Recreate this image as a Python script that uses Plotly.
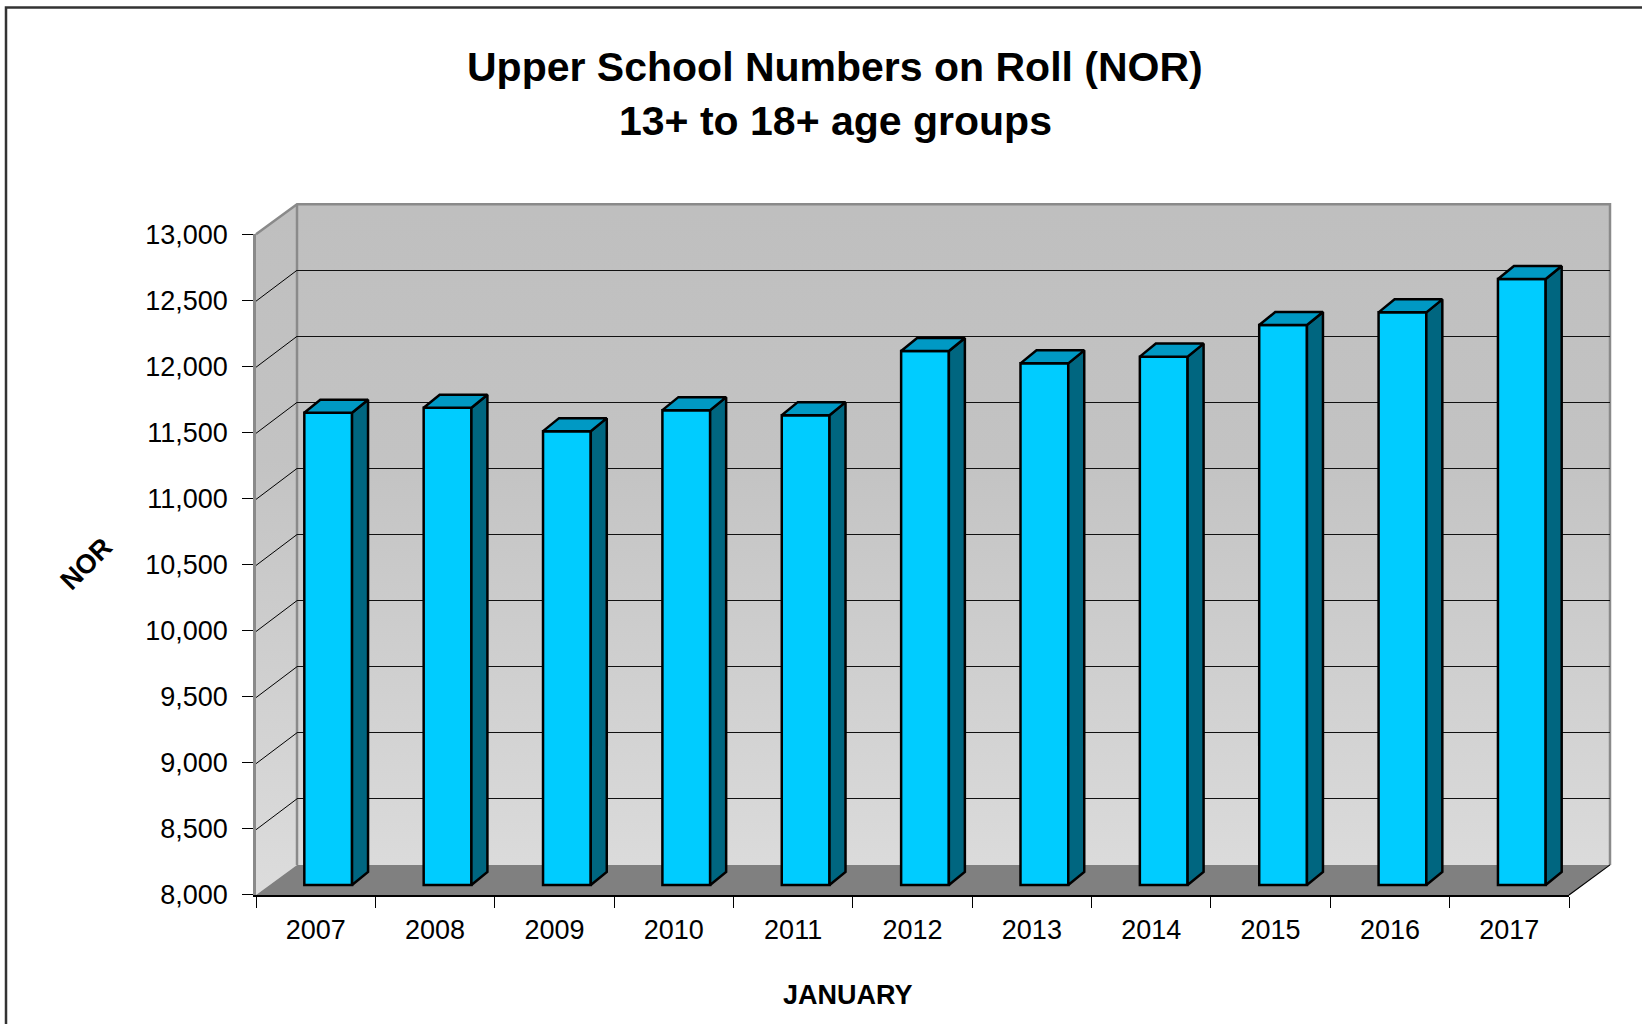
import plotly.graph_objects as go

# ---------------- data ----------------
years = [2007, 2008, 2009, 2010, 2011, 2012, 2013, 2014, 2015, 2016, 2017]
year_labels = [str(y) for y in years]
nor = [11573, 11611, 11434, 11593, 11555, 12040, 11947, 11998, 12237, 12333, 12586]
y_ticks = [8000, 8500, 9000, 9500, 10000, 10500, 11000, 11500, 12000, 12500, 13000]
y_tick_labels = ["8,000", "8,500", "9,000", "9,500", "10,000", "10,500",
                 "11,000", "11,500", "12,000", "12,500", "13,000"]
title_line1 = "Upper School Numbers on Roll (NOR)"
title_line2 = "13+ to 18+ age groups"
x_title = "JANUARY"
y_title = "NOR"

# ---------------- geometry ----------------
# target positions are given in screen pixels; vertical screen pixels are
# converted to figure pixels with the viewer's vertical scale.
S_Y = 0.9707
OFF_Y = 13.9
SHIFT = 2.5
W = 1642
H = 1060


def fy(y):
    return y / S_Y


FX0, FX1 = 256, 1569                  # front plane x extent
FYB, FYT = fy(896), fy(236)           # front plane y of axis min / max
DDX, DDY = 41, fy(30)                 # full depth offset of the 3D box
BSX, BSY = 12.5, fy(10)               # offset of bar front faces
BDX, BDY = 16, fy(13)                 # bar depth
Y_MIN, Y_MAX = y_ticks[0], y_ticks[-1]
K = (FYB - FYT) / (Y_MAX - Y_MIN)     # px per unit
X_MIN, X_MAX = years[0] - 0.5, years[-1] + 0.5
KX = (FX1 - FX0) / (X_MAX - X_MIN)    # px per year
Y4_MIN = 7700

FONT = "Liberation Sans, Arial, sans-serif"


def xd(a, b):
    return [a / W, b / W]


def yd(bottom, top):
    return [1 - bottom / H, 1 - top / H]


fig = go.Figure()

# ---------- subplot 1: pixel space furniture (walls, floor) ----------
BX0, BX1 = FX0 + DDX, FX1 + DDX
BYB, BYT = FYB - DDY, FYT - DDY
grad = dict(type="vertical", colorscale=[[0, "#bfbfbf"], [0.35, "#c3c3c3"], [1, "#dedede"]],
            start=BYT, stop=FYB)
fig.add_trace(go.Scatter(x=[BX0, BX1, BX1, BX0, BX0], y=[BYT, BYT, BYB, BYB, BYT],
                         fill="toself", fillgradient=grad, mode="none",
                         xaxis="x", yaxis="y", hoverinfo="skip", showlegend=False))
fig.add_trace(go.Scatter(x=[FX0, BX0, BX0, FX0, FX0], y=[FYT, BYT, BYB, FYB, FYT],
                         fill="toself", fillgradient=grad, mode="none",
                         xaxis="x", yaxis="y", hoverinfo="skip", showlegend=False))
fig.add_trace(go.Scatter(x=[FX0, BX0, BX1, FX1, FX0], y=[FYB, BYB, BYB, FYB, FYB],
                         fill="toself", fillcolor="#808080", mode="none",
                         xaxis="x", yaxis="y", hoverinfo="skip", showlegend=False))
# wall borders (gray)
fig.add_trace(go.Scatter(x=[FX0, BX0, BX1, BX1, None, BX0, BX0],
                         y=[FYT, BYT, BYT, BYB, None, BYT, BYB],
                         mode="lines", line=dict(color="#8a8a8a", width=2.5),
                         xaxis="x", yaxis="y", hoverinfo="skip", showlegend=False))
# floor right edge
fig.add_trace(go.Scatter(x=[FX1, BX1], y=[FYB, BYB], mode="lines",
                         line=dict(color="#000000", width=1.2),
                         xaxis="x", yaxis="y", hoverinfo="skip", showlegend=False))

# ---------- subplot 3: front plane axes (labels) ----------
fig.add_trace(go.Scatter(x=year_labels, y=nor, mode="markers", marker=dict(opacity=0),
                         xaxis="x3", yaxis="y3", hoverinfo="skip", showlegend=False))

# ---------- subplot 4: bars ----------
fig.add_trace(go.Bar(x=years, y=[v - Y_MIN for v in nor], base=Y_MIN, width=0.4,
                     marker=dict(color="#00ccff", line=dict(color="#000000", width=2.5)),
                     xaxis="x4", yaxis="y4", hoverinfo="skip", showlegend=False))
DXU = BDX / KX
DYU = BDY / K
sx, sy, tx, ty = [], [], [], []
for yr, v in zip(years, nor):
    r, l = yr + 0.2, yr - 0.2
    sx += [r, r, r + DXU, r + DXU, r, None]
    sy += [Y_MIN, v, v + DYU, Y_MIN + DYU, Y_MIN, None]
    tx += [l, r, r + DXU, l + DXU, l, None]
    ty += [v, v, v + DYU, v + DYU, v, None]
fig.add_trace(go.Scatter(x=sx, y=sy, fill="toself", fillcolor="#006680", mode="lines",
                         line=dict(color="#000000", width=2.5),
                         xaxis="x4", yaxis="y4", hoverinfo="skip", showlegend=False))
fig.add_trace(go.Scatter(x=tx, y=ty, fill="toself", fillcolor="#0099c4", mode="lines",
                         line=dict(color="#000000", width=2.5),
                         xaxis="x4", yaxis="y4", hoverinfo="skip", showlegend=False))

# ---------- side wall diagonal gridlines ----------
shapes = []
for v in y_ticks[1:-1]:
    shapes.append(dict(type="line", xref="paper", x0=BX0 / W, x1=FX0 / W,
                       yref="y2", ysizemode="pixel", yanchor=v, y0=0, y1=-DDY,
                       line=dict(color="#000000", width=1), layer="above"))
# outer frame
shapes.append(dict(type="rect", xref="paper", yref="paper", x0=6 / W, x1=1.05,
                   y0=-0.05, y1=1 - (fy(7) + SHIFT) / H, line=dict(color="#333333", width=2.5),
                   layer="above"))

annotations = [
    dict(text=title_line1, x=835 / W, y=1 - fy(68.5) / H, xref="paper", yref="paper",
         showarrow=False, font=dict(family=FONT, size=41, color="#000", weight="bold"),
         xanchor="center", yanchor="middle"),
    dict(text=title_line2, x=835 / W, y=1 - fy(122.5) / H, xref="paper", yref="paper",
         showarrow=False, font=dict(family=FONT, size=41, color="#000", weight="bold"),
         xanchor="center", yanchor="middle"),
    dict(text=x_title, x=848 / W, y=1 - fy(996) / H, xref="paper", yref="paper",
         showarrow=False, font=dict(family=FONT, size=27, color="#000", weight="bold"),
         xanchor="center", yanchor="middle"),
    dict(text=y_title, x=86 / W, y=1 - fy(565) / H, xref="paper", yref="paper",
         showarrow=False, font=dict(family=FONT, size=27, color="#000", weight="bold"),
         textangle=-45, xanchor="center", yanchor="middle"),
]

tickfont = dict(family=FONT, size=27, color="#000")
fig.update_layout(
    width=W, height=H, autosize=False,
    margin=dict(l=0, r=0, t=0, b=0),
    paper_bgcolor="#ffffff", plot_bgcolor="rgba(0,0,0,0)",
    showlegend=False, hovermode=False,
    shapes=shapes, annotations=annotations,
    xaxis=dict(domain=[0, 1], range=[0, W], visible=False, fixedrange=True),
    yaxis=dict(domain=[0, 1], range=[H, 0], visible=False, fixedrange=True),
    xaxis2=dict(domain=xd(BX0, BX1), range=[X_MIN, X_MAX], visible=False, anchor="y2"),
    yaxis2=dict(domain=yd(BYB, BYT), range=[Y_MIN, Y_MAX], anchor="x2",
                tickmode="array", tickvals=y_ticks[1:-1], showticklabels=False, ticks="",
                showgrid=True, gridcolor="#111111", gridwidth=1, zeroline=False, showline=False),
    xaxis3=dict(domain=xd(FX0, FX1), type="category", categoryorder="array",
                categoryarray=year_labels, range=[-0.5, len(years) - 0.5], anchor="y3",
                tickson="boundaries", ticks="outside", ticklen=fy(11), tickwidth=1.2,
                tickcolor="#000", showline=True, linecolor="#000", linewidth=2,
                showgrid=False, zeroline=False, tickfont=tickfont, ticklabelstandoff=10),
    yaxis3=dict(domain=yd(FYB, FYT), range=[Y_MIN, Y_MAX], anchor="x3",
                tickmode="array", tickvals=y_ticks, ticktext=y_tick_labels,
                ticks="outside", ticklen=11, tickwidth=1.2, tickcolor="#000",
                showline=True, linecolor="#8a8a8a", linewidth=2.5,
                showgrid=False, zeroline=False, tickfont=tickfont, ticklabelstandoff=9),
    xaxis4=dict(domain=xd(FX0 + BSX, FX1 + BSX), range=[X_MIN, X_MAX], visible=False,
                anchor="y4"),
    yaxis4=dict(domain=yd(FYB - BSY + (Y_MIN - Y4_MIN) * K, FYT - BSY),
                range=[Y4_MIN, Y_MAX], visible=False, anchor="x4"),
)

fig.write_html(
    "out.html",
    config={"displayModeBar": False, "responsive": False},
    post_script=(
        "document.documentElement.style.margin='0';"
        "document.body.style.margin='0';document.body.style.padding='0';"
        "document.body.style.overflow='hidden';"
        "var d=document.getElementById('{plot_id}');"
        "d.style.position='fixed';d.style.left='0px';"
        "d.style.top='" + str(round(-OFF_Y / S_Y - SHIFT, 2)) + "px';"
    ),
)
